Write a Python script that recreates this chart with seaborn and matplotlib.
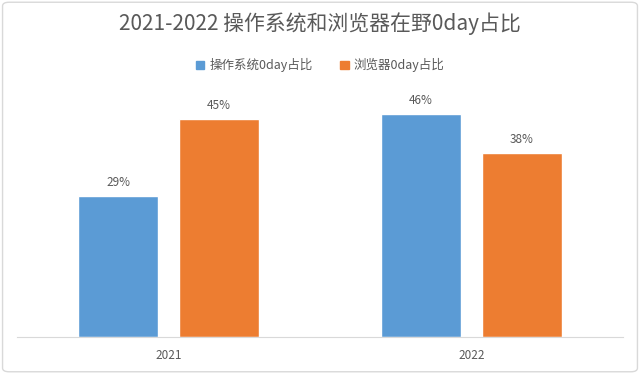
import matplotlib
matplotlib.use("Agg")
import matplotlib.pyplot as plt
from matplotlib.patches import FancyBboxPatch
import pandas as pd
import seaborn as sns

years = ["2021", "2022"]
series_names = ["操作系统0day占比", "浏览器0day占比"]
os_share = [0.29, 0.46]
browser_share = [0.45, 0.38]
colors = ["#5B9BD5", "#ED7D31"]

df = pd.DataFrame({
    "year": years * 2,
    "series": [series_names[0]] * 2 + [series_names[1]] * 2,
    "share": os_share + browser_share,
})

sns.set_style("white")
plt.rcParams["font.family"] = ["Noto Sans CJK SC", "DejaVu Sans"]

fig = plt.figure(figsize=(6.4, 3.74), dpi=100)
ax = fig.add_axes([0.027, 0.099, 0.946, 0.648])

sns.barplot(data=df, x="year", y="share", hue="series", palette=colors,
            width=0.667, gap=0.21, ax=ax, legend=False, saturation=1)

for container in ax.containers:
    ax.bar_label(container, labels=[f"{v:.0%}" for v in container.datavalues],
                 padding=5, fontsize=8.5, color="#595959")

ax.set_ylim(0, 0.5)
ax.set_xlim(-0.5, 1.5)
ax.set_xlabel("")
ax.set_ylabel("")
ax.set_yticks([])
for side in ["top", "right", "left"]:
    ax.spines[side].set_visible(False)
ax.spines["bottom"].set_color("#D9D9D9")
ax.tick_params(axis="x", length=0, pad=9, labelsize=8.5, labelcolor="#595959")

fig.text(0.5, 0.938, "2021-2022 操作系统和浏览器在野0day占比", ha="center", va="center",
         fontsize=15, color="#595959")

handles = [plt.Rectangle((0, 0), 1, 1, color=c) for c in colors]
fig.legend(handles, series_names, loc="center", bbox_to_anchor=(0.5, 0.825), ncol=2,
           frameon=False, fontsize=9, labelcolor="#595959", handlelength=0.7,
           handleheight=0.7, handletextpad=0.4, columnspacing=2.2)

border = FancyBboxPatch((0.004, 0.006), 0.992, 0.988, boxstyle="round,pad=0,rounding_size=0.01",
                        transform=fig.transFigure, fill=False, edgecolor="#D9D9D9", linewidth=1)
fig.patches.append(border)

fig.savefig("out.png", dpi=100)
